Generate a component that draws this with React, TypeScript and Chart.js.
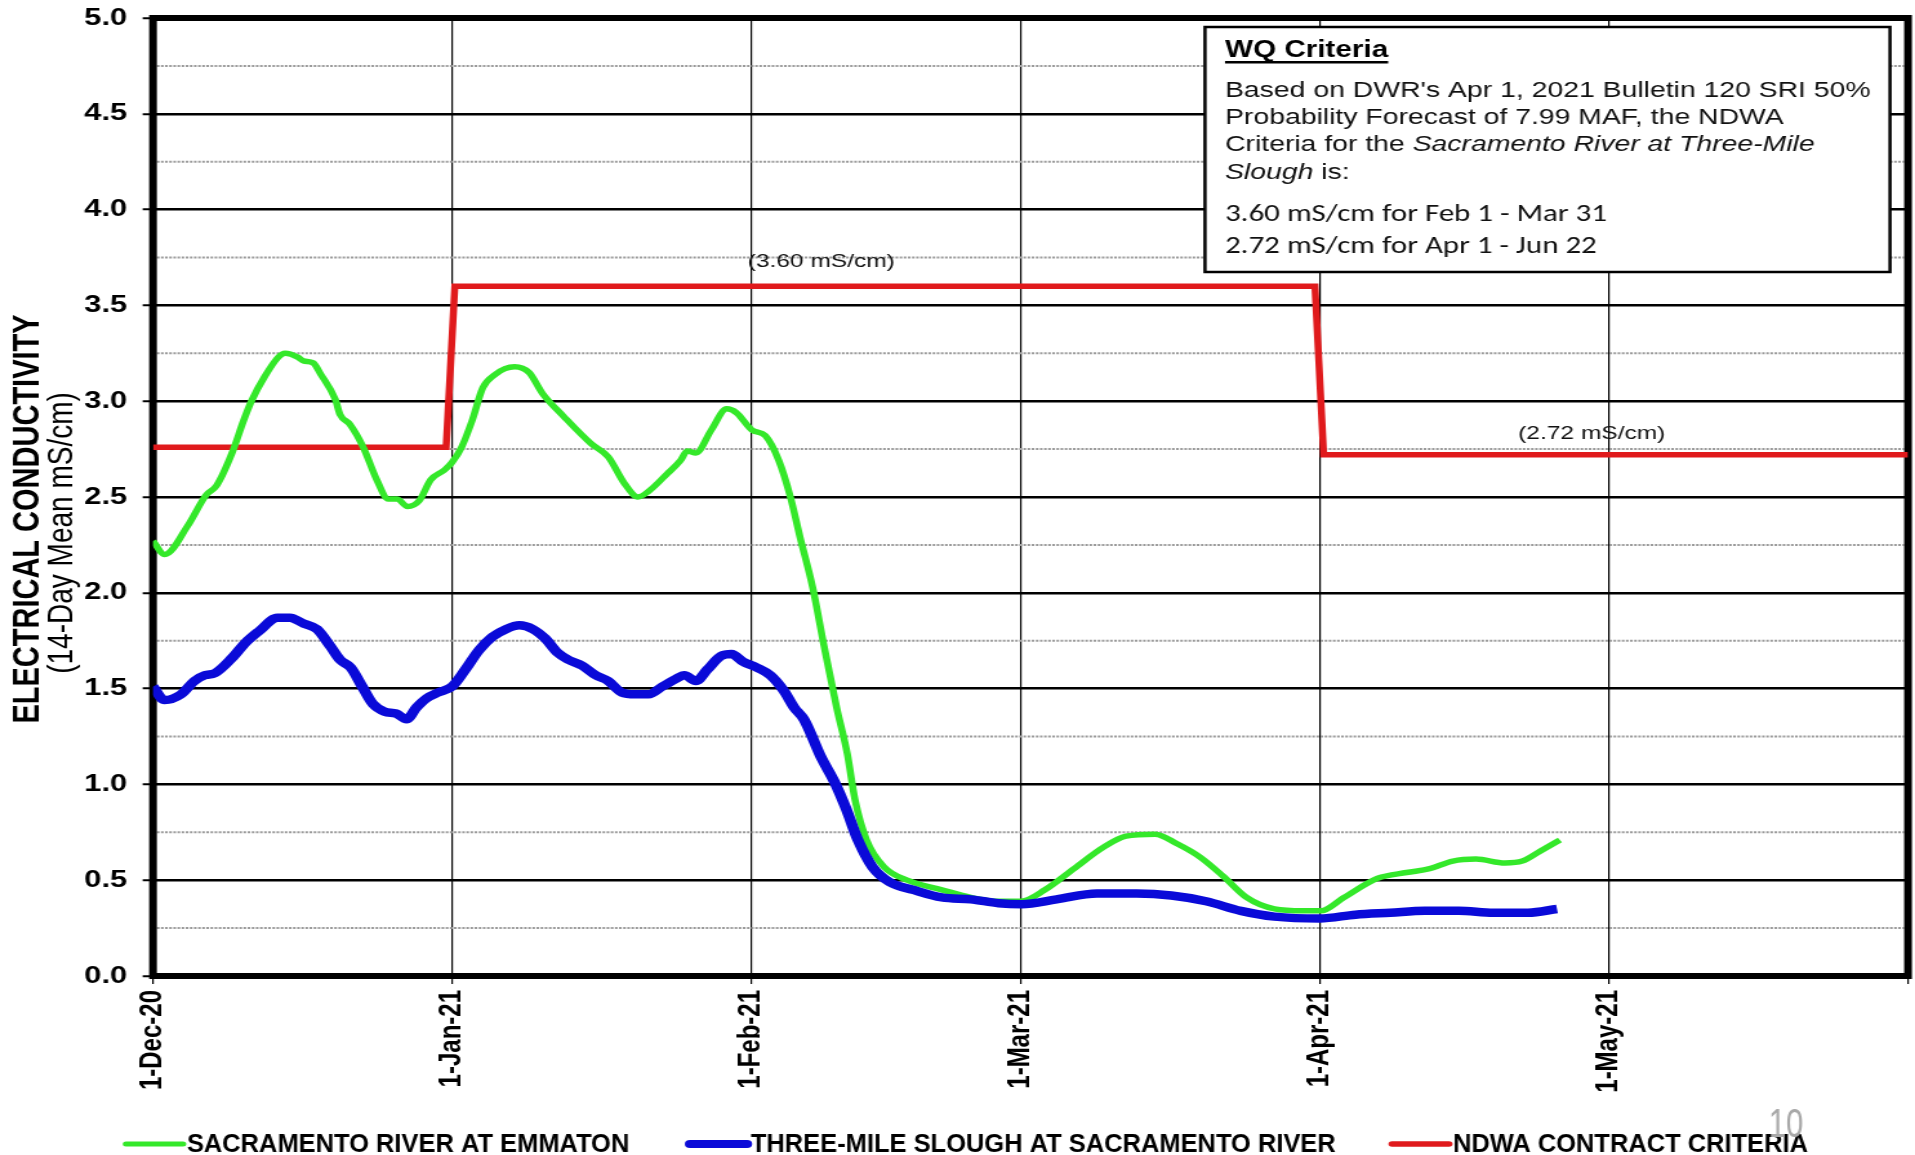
import React, { useEffect, useRef } from 'react';
import { Chart, registerables } from 'chart.js';

Chart.register(...registerables);

// ---------------- data ----------------
// x values are days since 1-Dec-2020
const MONTH_TICK_DAYS = [0, 31, 62, 90, 121, 151, 182];
const MONTH_TICK_LABELS = ['1-Dec-20', '1-Jan-21', '1-Feb-21', '1-Mar-21', '1-Apr-21', '1-May-21', ''];
const Y_TICK_LABELS = ['0.0', '0.5', '1.0', '1.5', '2.0', '2.5', '3.0', '3.5', '4.0', '4.5', '5.0'];
const Y_MINOR_GRID = [0.25, 0.75, 1.25, 1.75, 2.25, 2.75, 3.25, 3.75, 4.25, 4.75];

const SAC_DAYS = [
  0, 1.2, 3.6, 5.5, 6.6, 8.2, 9.4, 10.2, 11.6, 13.0, 13.7, 15.0, 15.6, 16.6, 17.4, 18.9, 19.4, 20.4, 21.8,
  23.2, 24.4, 25.3, 26.4, 27.6, 28.8, 30.2, 31.0, 32.0, 33.1, 34.2, 35.5, 36.5, 37.5, 39.0, 40.4, 42.6,
  45.4, 47.2, 48.9, 50.3, 51.4, 53.3, 54.7, 55.4, 56.3, 57.9, 59.5, 60.5, 62.1, 63.5, 64.9, 66.1, 67.1,
  68.4, 69.6, 70.9, 72.0, 72.8, 74.0, 75.8, 78.2, 81.8, 84.8, 87.5, 90.0, 92.5, 95.5, 98.5, 100.9, 103.9,
  106.2, 108.6, 111.0, 113.4, 116.3, 119.3, 121.1, 123.5, 127.0, 130.0, 132.4, 134.8, 137.2, 140.2,
  142.0, 143.8, 145.9,
];
const SAC_EC = [
  2.27, 2.2, 2.35, 2.51, 2.56, 2.73, 2.9, 3.0, 3.13, 3.23, 3.25, 3.23, 3.21, 3.2, 3.14, 3.01, 2.93, 2.88, 2.76,
  2.59, 2.49, 2.49, 2.45, 2.48, 2.59, 2.64, 2.68, 2.76, 2.9, 3.07, 3.14, 3.17, 3.18, 3.15, 3.04, 2.92,
  2.78, 2.71, 2.57, 2.5, 2.53, 2.62, 2.69, 2.74, 2.73, 2.85, 2.96, 2.94, 2.85, 2.82, 2.69, 2.5, 2.29,
  2.03, 1.72, 1.4, 1.16, 0.92, 0.71, 0.57, 0.5, 0.45, 0.41, 0.39, 0.39, 0.45, 0.56, 0.67, 0.73, 0.74,
  0.69, 0.62, 0.52, 0.41, 0.35, 0.34, 0.34, 0.41, 0.51, 0.54, 0.56, 0.6, 0.61, 0.59,
  0.6, 0.65, 0.71,
];

const TMS_DAYS = [
  0, 1.2, 2.9, 4.3, 5.4, 6.4, 8.2, 9.6, 11.0, 12.9, 14.2, 15.6, 17.0, 18.4, 19.4, 20.5, 21.7, 22.8, 24.0,
  25.2, 26.3, 27.3, 28.4, 29.6, 31.0, 32.4, 33.8, 35.2, 36.6, 38.0, 39.4, 40.7, 41.9, 43.1, 44.5, 45.9,
  47.2, 48.6, 50.0, 51.4, 52.8, 54.2, 55.1, 56.3, 57.5, 58.9, 60.0, 61.2, 62.6, 64.0, 65.4, 66.5, 67.5,
  69.3, 70.7, 71.9, 73.1, 74.6, 76.4, 78.8, 81.8, 84.8, 87.7, 90.1, 93.7, 97.9, 102.0, 105.6, 109.2,
  112.8, 116.3, 121.0, 124.7, 128.3, 131.9, 135.4, 139.0, 142.6, 145.6,
];
const TMS_EC = [
  1.51, 1.44, 1.47, 1.54, 1.57, 1.58, 1.66, 1.74, 1.8, 1.87, 1.87, 1.84, 1.81, 1.72, 1.65, 1.61, 1.51, 1.42, 1.38,
  1.37, 1.34, 1.4, 1.45, 1.48, 1.51, 1.6, 1.7, 1.77, 1.81, 1.83, 1.81, 1.76, 1.69, 1.65, 1.62, 1.57,
  1.54, 1.48, 1.47, 1.47, 1.51, 1.55, 1.57, 1.54, 1.6, 1.67, 1.68, 1.64, 1.61, 1.57, 1.49, 1.4, 1.34,
  1.14, 1.01, 0.87, 0.71, 0.57, 0.49, 0.45, 0.41, 0.4, 0.38, 0.375, 0.4, 0.43, 0.43, 0.42, 0.39,
  0.34, 0.31, 0.3, 0.32, 0.33, 0.34, 0.34, 0.33, 0.33, 0.35,
];

const NDWA_DAYS = [0, 30.4, 31.3, 120.5, 121.4, 182];
const NDWA_EC = [2.76, 2.76, 3.6, 3.6, 2.72, 2.72];

const SERIES_NAMES = [
  'SACRAMENTO RIVER AT EMMATON',
  'THREE-MILE SLOUGH AT SACRAMENTO RIVER',
  'NDWA CONTRACT CRITERIA',
];
const SERIES_COLORS = ['#34e82a', '#0a0ad8', '#e01a1c'];

const CRITERIA_LABELS = ['(3.60 mS/cm)', '(2.72 mS/cm)'];
const CRITERIA_LABEL_DAYS = [69.3, 149.2];
const CRITERIA_LABEL_VALUES = [3.73, 2.83];

const Y_TITLE = 'ELECTRICAL CONDUCTIVITY';
const Y_SUBTITLE = '(14-Day Mean mS/cm)';
const PAGE_NUMBER = '10';

// ---------------- layout ----------------
const FULL_W = 1915;
const FULL_H = 1155;
const CW = 1485; // canvas backing width; CSS stretches it horizontally like the original
const CH = 1155;
const SX = FULL_W / CW;
const fx = (v: number) => v / SX;

const ARIAL = '"Liberation Sans", Arial, Helvetica, sans-serif';
const CALIBRI = 'Carlito, Lato, "Open Sans", sans-serif';

const decorPlugin = {
  id: 'decor',
  beforeDraw(chart: any) {
    const ctx = chart.ctx;
    ctx.save();
    ctx.fillStyle = '#ffffff';
    ctx.fillRect(0, 0, chart.width, chart.height);
    ctx.restore();
  },
  beforeDatasetsDraw(chart: any) {
    const { ctx, chartArea, scales } = chart;
    const { left, right, top, bottom } = chartArea;
    const y = scales.y;
    ctx.save();
    ctx.strokeStyle = '#9a9a9a';
    ctx.lineWidth = 2;
    ctx.setLineDash([2, 1.2]);
    for (const v of Y_MINOR_GRID) {
      const py = y.getPixelForValue(v);
      ctx.beginPath();
      ctx.moveTo(left + 3, py);
      ctx.lineTo(right - 3, py);
      ctx.stroke();
    }
    ctx.setLineDash([]);
    ctx.strokeStyle = '#000';
    ctx.lineWidth = 6;
    ctx.strokeRect(left, top, right - left, bottom - top);
    ctx.restore();
  },
  afterDraw(chart: any) {
    const { ctx, scales } = chart;
    const x = scales.x;
    const y = scales.y;
    ctx.save();

    // criteria labels
    ctx.fillStyle = '#111';
    ctx.font = `19px ${ARIAL}`;
    ctx.textAlign = 'center';
    ctx.textBaseline = 'middle';
    CRITERIA_LABELS.forEach((t, i) => {
      ctx.fillText(t, x.getPixelForValue(CRITERIA_LABEL_DAYS[i]), y.getPixelForValue(CRITERIA_LABEL_VALUES[i]));
    });

    // WQ criteria box
    const bx = fx(1205), by = 27, bw = fx(1890) - fx(1205), bh = 245;
    ctx.fillStyle = '#fff';
    ctx.fillRect(bx, by, bw, bh);
    ctx.strokeStyle = '#000';
    ctx.lineWidth = 2.5;
    ctx.strokeRect(bx, by, bw, bh);

    const tx = fx(1225);
    ctx.textAlign = 'left';
    ctx.textBaseline = 'middle';
    ctx.fillStyle = '#000';
    ctx.font = `bold 23px ${ARIAL}`;
    ctx.fillText('WQ Criteria', tx, 51);
    const tw = ctx.measureText('WQ Criteria').width;
    ctx.fillRect(tx, 61, tw, 2.5);

    ctx.fillStyle = '#111';
    const normal = `22px ${ARIAL}`;
    const italic = `italic 22px ${ARIAL}`;
    const lines: [string, string][][] = [
      [["Based on DWR's Apr 1, 2021 Bulletin 120 SRI 50%", normal]],
      [['Probability Forecast of 7.99 MAF, the NDWA', normal]],
      [['Criteria for the ', normal], ['Sacramento River at Three-Mile', italic]],
      [['Slough', italic], [' is:', normal]],
    ];
    const lineY = [91, 118, 145, 173];
    lines.forEach((runs, i) => {
      let cx = tx;
      for (const [text, font] of runs) {
        ctx.font = font;
        ctx.fillText(text, cx, lineY[i]);
        cx += ctx.measureText(text).width;
      }
    });
    ctx.font = `24px ${CALIBRI}`;
    ctx.fillText('3.60 mS/cm for Feb 1 - Mar 31', tx, 215);
    ctx.fillText('2.72 mS/cm for Apr 1 - Jun 22', tx, 247);

    // y axis titles
    ctx.fillStyle = '#000';
    ctx.textAlign = 'center';
    ctx.save();
    ctx.translate(fx(28), 519);
    ctx.rotate(-Math.PI / 2);
    ctx.font = `bold 29px ${ARIAL}`;
    ctx.fillText(Y_TITLE, 0, 0);
    ctx.restore();
    ctx.save();
    ctx.translate(fx(62), 533);
    ctx.rotate(-Math.PI / 2);
    ctx.font = `28px ${ARIAL}`;
    ctx.fillText(Y_SUBTITLE, 0, 0);
    ctx.restore();

    // legend
    const legendLineX = [fx(126), fx(690), fx(1392)];
    const legendLineLen = fx(57);
    const ly = 1144;
    chart.data.datasets.forEach((ds: any, i: number) => {
      ctx.strokeStyle = ds.borderColor;
      ctx.lineWidth = i === 1 ? 8 : i === 0 ? 5 : 5.5;
      ctx.lineCap = 'round';
      ctx.beginPath();
      ctx.moveTo(legendLineX[i], ly);
      ctx.lineTo(legendLineX[i] + legendLineLen, ly);
      ctx.stroke();
      ctx.save();
      ctx.translate(legendLineX[i] + legendLineLen + 3, ly);
      ctx.scale(0.79, 1);
      ctx.fillStyle = '#000';
      ctx.textAlign = 'left';
      ctx.font = `bold 25px ${ARIAL}`;
      ctx.fillText(ds.label, 0, 1);
      ctx.restore();
    });

    // page number
    ctx.save();
    ctx.translate(fx(1786), 1126);
    ctx.scale(0.6, 1);
    ctx.fillStyle = '#a8a8a8';
    ctx.textAlign = 'center';
    ctx.font = `40px ${ARIAL}`;
    ctx.fillText(PAGE_NUMBER, 0, 0);
    ctx.restore();

    ctx.restore();
  },
};

export default function App() {
  const ref = useRef<HTMLCanvasElement>(null);

  useEffect(() => {
    const canvas = ref.current;
    if (!canvas) return;
    const toPts = (xs: number[], ys: number[]) => xs.map((d, i) => ({ x: d, y: ys[i] }));
    const chart = new Chart(canvas, {
      type: 'line',
      data: {
        datasets: [
          {
            label: SERIES_NAMES[0],
            data: toPts(SAC_DAYS, SAC_EC),
            borderColor: SERIES_COLORS[0],
            backgroundColor: SERIES_COLORS[0],
            borderWidth: 5.5,
            pointRadius: 0,
            cubicInterpolationMode: 'monotone',
            order: 1,
          },
          {
            label: SERIES_NAMES[1],
            data: toPts(TMS_DAYS, TMS_EC),
            borderColor: SERIES_COLORS[1],
            backgroundColor: SERIES_COLORS[1],
            borderWidth: 8.5,
            pointRadius: 0,
            cubicInterpolationMode: 'monotone',
            order: 0,
          },
          {
            label: SERIES_NAMES[2],
            data: toPts(NDWA_DAYS, NDWA_EC),
            borderColor: SERIES_COLORS[2],
            backgroundColor: SERIES_COLORS[2],
            borderWidth: 5.5,
            pointRadius: 0,
            tension: 0,
            order: 2,
          },
        ],
      },
      options: {
        responsive: false,
        animation: false,
        devicePixelRatio: 1,
        layout: { padding: { left: 0, top: 18, right: CW - fx(1908), bottom: 0 } },
        plugins: {
          legend: { display: false },
          tooltip: { enabled: false },
          title: { display: false },
        },
        scales: {
          x: {
            type: 'linear',
            min: 0,
            max: 182,
            afterBuildTicks: (scale: any) => {
              scale.ticks = MONTH_TICK_DAYS.map((v) => ({ value: v }));
            },
            afterFit: (scale: any) => {
              scale.height = CH - 976;
              scale.paddingLeft = 0;
              scale.paddingRight = 0;
            },
            ticks: {
              autoSkip: false,
              maxRotation: 90,
              minRotation: 90,
              padding: 6,
              color: '#000',
              font: { family: ARIAL, size: 24, weight: 'bold' },
              callback: (_v: any, i: number) => MONTH_TICK_LABELS[i] ?? '',
            },
            grid: {
              color: '#000',
              lineWidth: 1.2,
              tickLength: 8,
              tickWidth: 1.2,
              tickColor: '#000',
            },
            border: { display: false },
          },
          y: {
            type: 'linear',
            min: 0,
            max: 5,
            afterFit: (scale: any) => {
              scale.width = fx(153);
              scale.paddingTop = 0;
              scale.paddingBottom = 0;
            },
            ticks: {
              stepSize: 0.5,
              padding: 12,
              color: '#000',
              font: { family: ARIAL, size: 24, weight: 'bold' },
              callback: (_v: any, i: number) => Y_TICK_LABELS[i] ?? '',
            },
            grid: {
              color: '#000',
              lineWidth: 2.5,
              tickLength: 8,
              tickWidth: 2,
              tickColor: '#000',
            },
            border: { display: false },
          },
        },
      },
      plugins: [decorPlugin],
    } as any);
    return () => chart.destroy();
  }, []);

  return (
    <div style={{ position: 'absolute', left: 0, top: 0, width: FULL_W, height: FULL_H, background: '#fff' }}>
      <canvas
        ref={ref}
        width={CW}
        height={CH}
        style={{ width: `${FULL_W}px`, height: `${FULL_H}px`, display: 'block' }}
      />
    </div>
  );
}
